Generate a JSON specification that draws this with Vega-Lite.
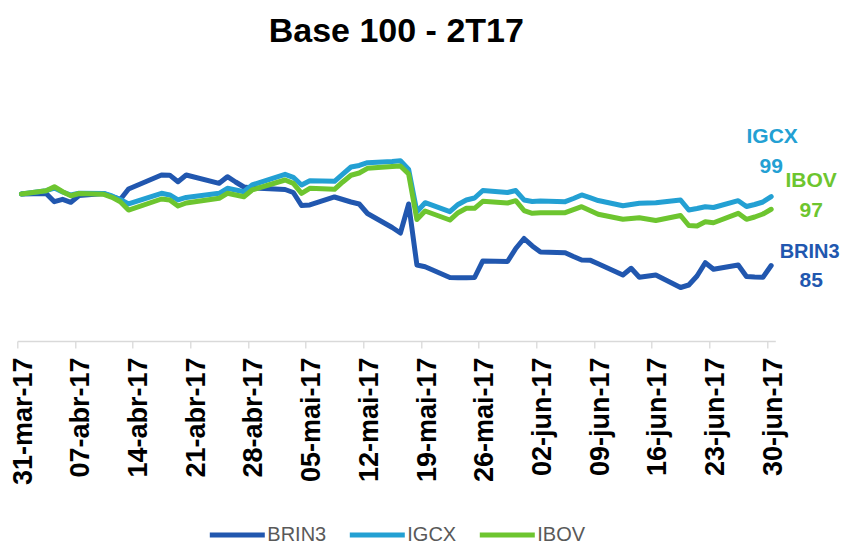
{
  "$schema": "https://vega.github.io/schema/vega-lite/v6.json",
  "width": 758,
  "height": 245,
  "autosize": {"type": "none"},
  "padding": {"left": 17.3, "top": 96, "right": 65.7, "bottom": 204},
  "background": "white",
  "title": {
    "text": "Base 100 - 2T17",
    "font": "Liberation Sans",
    "fontSize": 34,
    "fontWeight": "bold",
    "color": "#000000",
    "anchor": "middle",
    "frame": "group",
    "baseline": "alphabetic",
    "offset": 53,
    "dy": 33
  },
  "config": {
    "view": {"stroke": null},
    "legend": {"layout": {"bottom": {"anchor": "middle"}}}
  },
  "data": {
    "format": {"parse": {"date": "date"}},
    "values": [
      {"series":"BRIN3","date":"2017-03-31T12:00","value":100},
      {"series":"BRIN3","date":"2017-04-03T12:00","value":100.1},
      {"series":"BRIN3","date":"2017-04-04T12:00","value":98.43},
      {"series":"BRIN3","date":"2017-04-05T12:00","value":98.92},
      {"series":"BRIN3","date":"2017-04-06T12:00","value":98.31},
      {"series":"BRIN3","date":"2017-04-07T12:00","value":99.69},
      {"series":"BRIN3","date":"2017-04-10T12:00","value":100.1},
      {"series":"BRIN3","date":"2017-04-11T12:00","value":99.45},
      {"series":"BRIN3","date":"2017-04-12T12:00","value":98.88},
      {"series":"BRIN3","date":"2017-04-13T12:00","value":101.02},
      {"series":"BRIN3","date":"2017-04-17T12:00","value":103.88},
      {"series":"BRIN3","date":"2017-04-18T12:00","value":103.85},
      {"series":"BRIN3","date":"2017-04-19T12:00","value":102.51},
      {"series":"BRIN3","date":"2017-04-20T12:00","value":103.88},
      {"series":"BRIN3","date":"2017-04-24T12:00","value":102.18},
      {"series":"BRIN3","date":"2017-04-25T12:00","value":103.53},
      {"series":"BRIN3","date":"2017-04-26T12:00","value":102.45},
      {"series":"BRIN3","date":"2017-04-27T12:00","value":101.43},
      {"series":"BRIN3","date":"2017-04-28T12:00","value":101.22},
      {"series":"BRIN3","date":"2017-05-02T12:00","value":100.92},
      {"series":"BRIN3","date":"2017-05-03T12:00","value":100.31},
      {"series":"BRIN3","date":"2017-05-04T12:00","value":97.65},
      {"series":"BRIN3","date":"2017-05-05T12:00","value":97.76},
      {"series":"BRIN3","date":"2017-05-08T12:00","value":99.39},
      {"series":"BRIN3","date":"2017-05-09T12:00","value":98.88},
      {"series":"BRIN3","date":"2017-05-10T12:00","value":98.37},
      {"series":"BRIN3","date":"2017-05-11T12:00","value":97.96},
      {"series":"BRIN3","date":"2017-05-12T12:00","value":96.02},
      {"series":"BRIN3","date":"2017-05-15T12:00","value":93.16},
      {"series":"BRIN3","date":"2017-05-16T12:00","value":92.04},
      {"series":"BRIN3","date":"2017-05-17T12:00","value":97.96},
      {"series":"BRIN3","date":"2017-05-18T12:00","value":85.51},
      {"series":"BRIN3","date":"2017-05-19T12:00","value":85.16},
      {"series":"BRIN3","date":"2017-05-22T12:00","value":82.96},
      {"series":"BRIN3","date":"2017-05-23T12:00","value":82.92},
      {"series":"BRIN3","date":"2017-05-24T12:00","value":82.9},
      {"series":"BRIN3","date":"2017-05-25T12:00","value":82.96},
      {"series":"BRIN3","date":"2017-05-26T12:00","value":86.33},
      {"series":"BRIN3","date":"2017-05-29T12:00","value":86.22},
      {"series":"BRIN3","date":"2017-05-30T12:00","value":88.88},
      {"series":"BRIN3","date":"2017-05-31T12:00","value":90.92},
      {"series":"BRIN3","date":"2017-06-01T12:00","value":89.4},
      {"series":"BRIN3","date":"2017-06-02T12:00","value":88.16},
      {"series":"BRIN3","date":"2017-06-05T12:00","value":88.02},
      {"series":"BRIN3","date":"2017-06-06T12:00","value":87.24},
      {"series":"BRIN3","date":"2017-06-07T12:00","value":86.53},
      {"series":"BRIN3","date":"2017-06-08T12:00","value":86.5},
      {"series":"BRIN3","date":"2017-06-09T12:00","value":85.75},
      {"series":"BRIN3","date":"2017-06-12T12:00","value":83.47},
      {"series":"BRIN3","date":"2017-06-13T12:00","value":84.84},
      {"series":"BRIN3","date":"2017-06-14T12:00","value":83.0},
      {"series":"BRIN3","date":"2017-06-16T12:00","value":83.47},
      {"series":"BRIN3","date":"2017-06-19T12:00","value":80.92},
      {"series":"BRIN3","date":"2017-06-20T12:00","value":81.43},
      {"series":"BRIN3","date":"2017-06-21T12:00","value":83.27},
      {"series":"BRIN3","date":"2017-06-22T12:00","value":85.98},
      {"series":"BRIN3","date":"2017-06-23T12:00","value":84.63},
      {"series":"BRIN3","date":"2017-06-26T12:00","value":85.51},
      {"series":"BRIN3","date":"2017-06-27T12:00","value":83.16},
      {"series":"BRIN3","date":"2017-06-28T12:00","value":83.06},
      {"series":"BRIN3","date":"2017-06-29T12:00","value":83.0},
      {"series":"BRIN3","date":"2017-06-30T12:00","value":85.4},

      {"series":"IGCX","date":"2017-03-31T12:00","value":100},
      {"series":"IGCX","date":"2017-04-03T12:00","value":100.67},
      {"series":"IGCX","date":"2017-04-04T12:00","value":101.22},
      {"series":"IGCX","date":"2017-04-05T12:00","value":100.41},
      {"series":"IGCX","date":"2017-04-06T12:00","value":99.8},
      {"series":"IGCX","date":"2017-04-07T12:00","value":100.14},
      {"series":"IGCX","date":"2017-04-10T12:00","value":100.1},
      {"series":"IGCX","date":"2017-04-11T12:00","value":99.59},
      {"series":"IGCX","date":"2017-04-12T12:00","value":98.88},
      {"series":"IGCX","date":"2017-04-13T12:00","value":97.96},
      {"series":"IGCX","date":"2017-04-17T12:00","value":100.14},
      {"series":"IGCX","date":"2017-04-18T12:00","value":99.8},
      {"series":"IGCX","date":"2017-04-19T12:00","value":98.78},
      {"series":"IGCX","date":"2017-04-20T12:00","value":99.29},
      {"series":"IGCX","date":"2017-04-24T12:00","value":100.14},
      {"series":"IGCX","date":"2017-04-25T12:00","value":101.16},
      {"series":"IGCX","date":"2017-04-26T12:00","value":100.82},
      {"series":"IGCX","date":"2017-04-27T12:00","value":100.47},
      {"series":"IGCX","date":"2017-04-28T12:00","value":101.84},
      {"series":"IGCX","date":"2017-05-02T12:00","value":104.02},
      {"series":"IGCX","date":"2017-05-03T12:00","value":103.41},
      {"series":"IGCX","date":"2017-05-04T12:00","value":101.84},
      {"series":"IGCX","date":"2017-05-05T12:00","value":102.71},
      {"series":"IGCX","date":"2017-05-08T12:00","value":102.59},
      {"series":"IGCX","date":"2017-05-09T12:00","value":104.08},
      {"series":"IGCX","date":"2017-05-10T12:00","value":105.51},
      {"series":"IGCX","date":"2017-05-11T12:00","value":105.82},
      {"series":"IGCX","date":"2017-05-12T12:00","value":106.39},
      {"series":"IGCX","date":"2017-05-15T12:00","value":106.63},
      {"series":"IGCX","date":"2017-05-16T12:00","value":106.8},
      {"series":"IGCX","date":"2017-05-17T12:00","value":105.0},
      {"series":"IGCX","date":"2017-05-18T12:00","value":96.39},
      {"series":"IGCX","date":"2017-05-19T12:00","value":98.22},
      {"series":"IGCX","date":"2017-05-22T12:00","value":96.39},
      {"series":"IGCX","date":"2017-05-23T12:00","value":97.86},
      {"series":"IGCX","date":"2017-05-24T12:00","value":98.78},
      {"series":"IGCX","date":"2017-05-25T12:00","value":99.18},
      {"series":"IGCX","date":"2017-05-26T12:00","value":100.71},
      {"series":"IGCX","date":"2017-05-29T12:00","value":100.31},
      {"series":"IGCX","date":"2017-05-30T12:00","value":100.71},
      {"series":"IGCX","date":"2017-05-31T12:00","value":98.78},
      {"series":"IGCX","date":"2017-06-01T12:00","value":98.47},
      {"series":"IGCX","date":"2017-06-02T12:00","value":98.57},
      {"series":"IGCX","date":"2017-06-05T12:00","value":98.43},
      {"series":"IGCX","date":"2017-06-06T12:00","value":99.08},
      {"series":"IGCX","date":"2017-06-07T12:00","value":99.8},
      {"series":"IGCX","date":"2017-06-08T12:00","value":99.24},
      {"series":"IGCX","date":"2017-06-09T12:00","value":98.67},
      {"series":"IGCX","date":"2017-06-12T12:00","value":97.61},
      {"series":"IGCX","date":"2017-06-13T12:00","value":97.86},
      {"series":"IGCX","date":"2017-06-14T12:00","value":98.1},
      {"series":"IGCX","date":"2017-06-16T12:00","value":98.22},
      {"series":"IGCX","date":"2017-06-19T12:00","value":98.78},
      {"series":"IGCX","date":"2017-06-20T12:00","value":96.73},
      {"series":"IGCX","date":"2017-06-21T12:00","value":97.04},
      {"series":"IGCX","date":"2017-06-22T12:00","value":97.41},
      {"series":"IGCX","date":"2017-06-23T12:00","value":97.24},
      {"series":"IGCX","date":"2017-06-26T12:00","value":98.63},
      {"series":"IGCX","date":"2017-06-27T12:00","value":97.45},
      {"series":"IGCX","date":"2017-06-28T12:00","value":97.86},
      {"series":"IGCX","date":"2017-06-29T12:00","value":98.37},
      {"series":"IGCX","date":"2017-06-30T12:00","value":99.45},

      {"series":"IBOV","date":"2017-03-31T12:00","value":100},
      {"series":"IBOV","date":"2017-04-03T12:00","value":100.67},
      {"series":"IBOV","date":"2017-04-04T12:00","value":101.49},
      {"series":"IBOV","date":"2017-04-05T12:00","value":100.47},
      {"series":"IBOV","date":"2017-04-06T12:00","value":99.65},
      {"series":"IBOV","date":"2017-04-07T12:00","value":100.1},
      {"series":"IBOV","date":"2017-04-10T12:00","value":99.94},
      {"series":"IBOV","date":"2017-04-11T12:00","value":99.33},
      {"series":"IBOV","date":"2017-04-12T12:00","value":98.43},
      {"series":"IBOV","date":"2017-04-13T12:00","value":96.73},
      {"series":"IBOV","date":"2017-04-17T12:00","value":98.98},
      {"series":"IBOV","date":"2017-04-18T12:00","value":98.78},
      {"series":"IBOV","date":"2017-04-19T12:00","value":97.55},
      {"series":"IBOV","date":"2017-04-20T12:00","value":98.16},
      {"series":"IBOV","date":"2017-04-24T12:00","value":99.12},
      {"series":"IBOV","date":"2017-04-25T12:00","value":100.14},
      {"series":"IBOV","date":"2017-04-26T12:00","value":99.8},
      {"series":"IBOV","date":"2017-04-27T12:00","value":99.45},
      {"series":"IBOV","date":"2017-04-28T12:00","value":100.82},
      {"series":"IBOV","date":"2017-05-02T12:00","value":102.86},
      {"series":"IBOV","date":"2017-05-03T12:00","value":102.18},
      {"series":"IBOV","date":"2017-05-04T12:00","value":100.14},
      {"series":"IBOV","date":"2017-05-05T12:00","value":101.16},
      {"series":"IBOV","date":"2017-05-08T12:00","value":100.96},
      {"series":"IBOV","date":"2017-05-09T12:00","value":102.45},
      {"series":"IBOV","date":"2017-05-10T12:00","value":103.82},
      {"series":"IBOV","date":"2017-05-11T12:00","value":104.29},
      {"series":"IBOV","date":"2017-05-12T12:00","value":105.24},
      {"series":"IBOV","date":"2017-05-15T12:00","value":105.61},
      {"series":"IBOV","date":"2017-05-16T12:00","value":105.71},
      {"series":"IBOV","date":"2017-05-17T12:00","value":104.08},
      {"series":"IBOV","date":"2017-05-18T12:00","value":94.8},
      {"series":"IBOV","date":"2017-05-19T12:00","value":96.53},
      {"series":"IBOV","date":"2017-05-22T12:00","value":94.69},
      {"series":"IBOV","date":"2017-05-23T12:00","value":96.18},
      {"series":"IBOV","date":"2017-05-24T12:00","value":97.08},
      {"series":"IBOV","date":"2017-05-25T12:00","value":97.08},
      {"series":"IBOV","date":"2017-05-26T12:00","value":98.51},
      {"series":"IBOV","date":"2017-05-29T12:00","value":98.16},
      {"series":"IBOV","date":"2017-05-30T12:00","value":98.63},
      {"series":"IBOV","date":"2017-05-31T12:00","value":96.63},
      {"series":"IBOV","date":"2017-06-01T12:00","value":96.06},
      {"series":"IBOV","date":"2017-06-02T12:00","value":96.16},
      {"series":"IBOV","date":"2017-06-05T12:00","value":96.18},
      {"series":"IBOV","date":"2017-06-06T12:00","value":96.8},
      {"series":"IBOV","date":"2017-06-07T12:00","value":97.41},
      {"series":"IBOV","date":"2017-06-08T12:00","value":96.63},
      {"series":"IBOV","date":"2017-06-09T12:00","value":95.86},
      {"series":"IBOV","date":"2017-06-12T12:00","value":94.84},
      {"series":"IBOV","date":"2017-06-13T12:00","value":95.0},
      {"series":"IBOV","date":"2017-06-14T12:00","value":95.16},
      {"series":"IBOV","date":"2017-06-16T12:00","value":94.59},
      {"series":"IBOV","date":"2017-06-19T12:00","value":95.61},
      {"series":"IBOV","date":"2017-06-20T12:00","value":93.57},
      {"series":"IBOV","date":"2017-06-21T12:00","value":93.47},
      {"series":"IBOV","date":"2017-06-22T12:00","value":94.35},
      {"series":"IBOV","date":"2017-06-23T12:00","value":94.14},
      {"series":"IBOV","date":"2017-06-26T12:00","value":96.06},
      {"series":"IBOV","date":"2017-06-27T12:00","value":94.84},
      {"series":"IBOV","date":"2017-06-28T12:00","value":95.31},
      {"series":"IBOV","date":"2017-06-29T12:00","value":95.92},
      {"series":"IBOV","date":"2017-06-30T12:00","value":96.88}
    ]
  },
  "encoding": {
    "x": {
      "field": "date",
      "type": "temporal",
      "scale": {
        "domain": [
          {"year": 2017, "month": 3, "date": 31},
          {"year": 2017, "month": 7, "date": 1}
        ],
        "nice": false
      },
      "axis": {
        "title": null,
        "grid": false,
        "values": [
          {"year": 2017, "month": 3, "date": 31},
          {"year": 2017, "month": 4, "date": 7},
          {"year": 2017, "month": 4, "date": 14},
          {"year": 2017, "month": 4, "date": 21},
          {"year": 2017, "month": 4, "date": 28},
          {"year": 2017, "month": 5, "date": 5},
          {"year": 2017, "month": 5, "date": 12},
          {"year": 2017, "month": 5, "date": 19},
          {"year": 2017, "month": 5, "date": 26},
          {"year": 2017, "month": 6, "date": 2},
          {"year": 2017, "month": 6, "date": 9},
          {"year": 2017, "month": 6, "date": 16},
          {"year": 2017, "month": 6, "date": 23},
          {"year": 2017, "month": 6, "date": 30}
        ],
        "labelExpr": "timeFormat(datum.value, '%d') + '-' + ['jan','fev','mar','abr','mai','jun','jul','ago','set','out','nov','dez'][month(datum.value)] + '-' + timeFormat(datum.value, '%y')",
        "labelAngle": -90,
        "labelFont": "Liberation Sans",
        "labelFontSize": 27,
        "labelFontWeight": "bold",
        "labelColor": "#000000",
        "labelOffset": 6,
        "labelPadding": 9,
        "labelOverlap": false,
        "labelFlush": false,
        "domainColor": "#d9d9d9",
        "domainWidth": 1.3,
        "tickColor": "#d9d9d9",
        "tickWidth": 1.3,
        "tickSize": 7
      }
    },
    "y": {
      "field": "value",
      "type": "quantitative",
      "scale": {"domain": [70, 120], "nice": false, "zero": false},
      "axis": null
    }
  },
  "layer": [
    {
      "mark": {"type": "line", "strokeWidth": 5, "strokeCap": "round", "strokeJoin": "round"},
      "encoding": {
        "color": {
          "field": "series",
          "type": "nominal",
          "scale": {
            "domain": ["BRIN3", "IGCX", "IBOV"],
            "range": ["#2157AF", "#23A0D3", "#6DC52F"]
          },
          "legend": {
            "title": null,
            "orient": "bottom",
            "direction": "horizontal",
            "symbolType": "stroke",
            "symbolSize": 3025,
            "symbolStrokeWidth": 5,
            "labelFont": "Liberation Sans",
            "labelFontSize": 20,
            "labelColor": "#595959",
            "labelOffset": 0,
            "columnPadding": 13,
            "offset": 20
          }
        }
      }
    },
    {
      "transform": [{"filter": "datum.series === 'IGCX' && month(datum.date) === 5 && date(datum.date) === 30"}],
      "mark": {"type": "text", "font": "Liberation Sans", "fontSize": 21, "fontWeight": "bold", "color": "#23A0D3", "align": "center", "baseline": "alphabetic", "dx": 1, "dy": -54},
      "encoding": {"text": {"field": "series"}}
    },
    {
      "transform": [{"filter": "datum.series === 'IGCX' && month(datum.date) === 5 && date(datum.date) === 30"}],
      "mark": {"type": "text", "font": "Liberation Sans", "fontSize": 21, "fontWeight": "bold", "color": "#23A0D3", "align": "center", "baseline": "alphabetic", "dx": 0, "dy": -24},
      "encoding": {"text": {"field": "value", "format": ".0f"}}
    },
    {
      "transform": [{"filter": "datum.series === 'IBOV' && month(datum.date) === 5 && date(datum.date) === 30"}],
      "mark": {"type": "text", "font": "Liberation Sans", "fontSize": 21, "fontWeight": "bold", "color": "#6DC52F", "align": "center", "baseline": "alphabetic", "dx": 40, "dy": -22},
      "encoding": {"text": {"field": "series"}}
    },
    {
      "transform": [{"filter": "datum.series === 'IBOV' && month(datum.date) === 5 && date(datum.date) === 30"}],
      "mark": {"type": "text", "font": "Liberation Sans", "fontSize": 21, "fontWeight": "bold", "color": "#6DC52F", "align": "center", "baseline": "alphabetic", "dx": 40, "dy": 8},
      "encoding": {"text": {"field": "value", "format": ".0f"}}
    },
    {
      "transform": [{"filter": "datum.series === 'BRIN3' && month(datum.date) === 5 && date(datum.date) === 30"}],
      "mark": {"type": "text", "font": "Liberation Sans", "fontSize": 20, "fontWeight": "bold", "color": "#2157AF", "align": "center", "baseline": "alphabetic", "dx": 38.5, "dy": -8},
      "encoding": {"text": {"field": "series"}}
    },
    {
      "transform": [{"filter": "datum.series === 'BRIN3' && month(datum.date) === 5 && date(datum.date) === 30"}],
      "mark": {"type": "text", "font": "Liberation Sans", "fontSize": 21, "fontWeight": "bold", "color": "#2157AF", "align": "center", "baseline": "alphabetic", "dx": 40, "dy": 21},
      "encoding": {"text": {"field": "value", "format": ".0f"}}
    }
  ]
}
